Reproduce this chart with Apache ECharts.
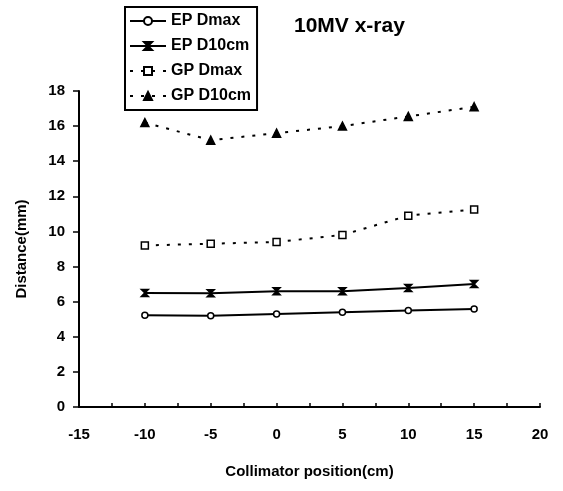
<!DOCTYPE html>
<html>
<head>
<meta charset="utf-8">
<script src="https://cdn.jsdelivr.net/npm/echarts@6/dist/echarts.min.js"></script>
<style>html,body{margin:0;padding:0;background:#fff}#c{width:563px;height:491px}</style>
</head>
<body>
<div id="c"></div>
<script>
var positions = [-10, -5, 0, 5, 10, 15];
var epDmax = [5.22, 5.2, 5.3, 5.4, 5.5, 5.58];
var epD10 = [6.5, 6.48, 6.6, 6.6, 6.78, 7.0];
var gpDmax = [9.2, 9.3, 9.4, 9.8, 10.9, 11.25];
var gpD10 = [16.2, 15.2, 15.6, 16.0, 16.55, 17.1];
var seriesNames = ['EP Dmax', 'EP D10cm', 'GP Dmax', 'GP D10cm'];
var xTicks = [-15, -10, -5, 0, 5, 10, 15, 20];
var yTicks = [0, 2, 4, 6, 8, 10, 12, 14, 16, 18];

function pairs(vals) { return positions.map(function (x, i) { return [x, vals[i]]; }); }

var font = 'Arial, "Liberation Sans", sans-serif';
var xMark = 'path://M0,0 L10,0 L5,5 Z M0,10 L10,10 L5,5 Z';

function mk(name, vals, dotted, symbol, size, fill) {
  return {
    name: name, type: 'line', data: pairs(vals),
    symbol: symbol, symbolSize: size, showSymbol: true,
    lineStyle: { color: '#000', width: 2, type: dotted ? [3, 8] : 'solid' },
    itemStyle: { color: fill, borderColor: '#000', borderWidth: 1.5 },
    animation: false
  };
}

var chart = echarts.init(document.getElementById('c'));
chart.setOption({
  backgroundColor: '#fff',
  animation: false,
  title: {
    text: '10MV x-ray', left: 289, top: 11,
    textStyle: { fontFamily: font, fontWeight: 'bold', fontSize: 21, color: '#000' }
  },
  legend: {
    orient: 'vertical', left: 125, top: 7,
    data: seriesNames,
    itemWidth: 36, itemHeight: 10, itemGap: 9,
    padding: [6, 6, 6, 4],
    borderColor: '#000', borderWidth: 2,
    textStyle: { fontFamily: font, fontWeight: 'bold', fontSize: 16, color: '#000' }
  },
  grid: { left: 79, right: 23, top: 91, bottom: 84 },
  xAxis: {
    type: 'value', min: xTicks[0], max: xTicks[xTicks.length - 1], interval: 5,
    name: 'Collimator position(cm)', nameLocation: 'middle', nameGap: 57,
    nameTextStyle: { fontFamily: font, fontWeight: 'bold', fontSize: 15, color: '#000' },
    axisLine: { onZero: false, lineStyle: { color: '#000', width: 2 } },
    axisTick: { inside: true, length: 4, lineStyle: { color: '#000', width: 1.5 } },
    minorTick: { show: true, splitNumber: 2, length: 4, lineStyle: { color: '#000', width: 1.5 } },
    axisLabel: { fontFamily: font, fontWeight: 'bold', fontSize: 15, color: '#000', margin: 20 },
    splitLine: { show: false }
  },
  yAxis: {
    type: 'value', min: yTicks[0], max: yTicks[yTicks.length - 1], interval: 2,
    name: 'Distance(mm)', nameLocation: 'middle', nameGap: 50,
    nameTextStyle: { fontFamily: font, fontWeight: 'bold', fontSize: 15, color: '#000' },
    axisLine: { show: true, onZero: false, lineStyle: { color: '#000', width: 2 } },
    axisTick: { show: true, length: 6, lineStyle: { color: '#000', width: 1.5 } },
    axisLabel: { fontFamily: font, fontWeight: 'bold', fontSize: 15, color: '#000', margin: 14 },
    splitLine: { show: false }
  },
  series: [
    mk(seriesNames[0], epDmax, false, 'circle', 6, '#fff'),
    mk(seriesNames[1], epD10, false, xMark, 7, '#000'),
    mk(seriesNames[2], gpDmax, true, 'rect', 7, '#fff'),
    mk(seriesNames[3], gpD10, true, 'triangle', 8, '#000')
  ]
});
</script>
</body>
</html>
